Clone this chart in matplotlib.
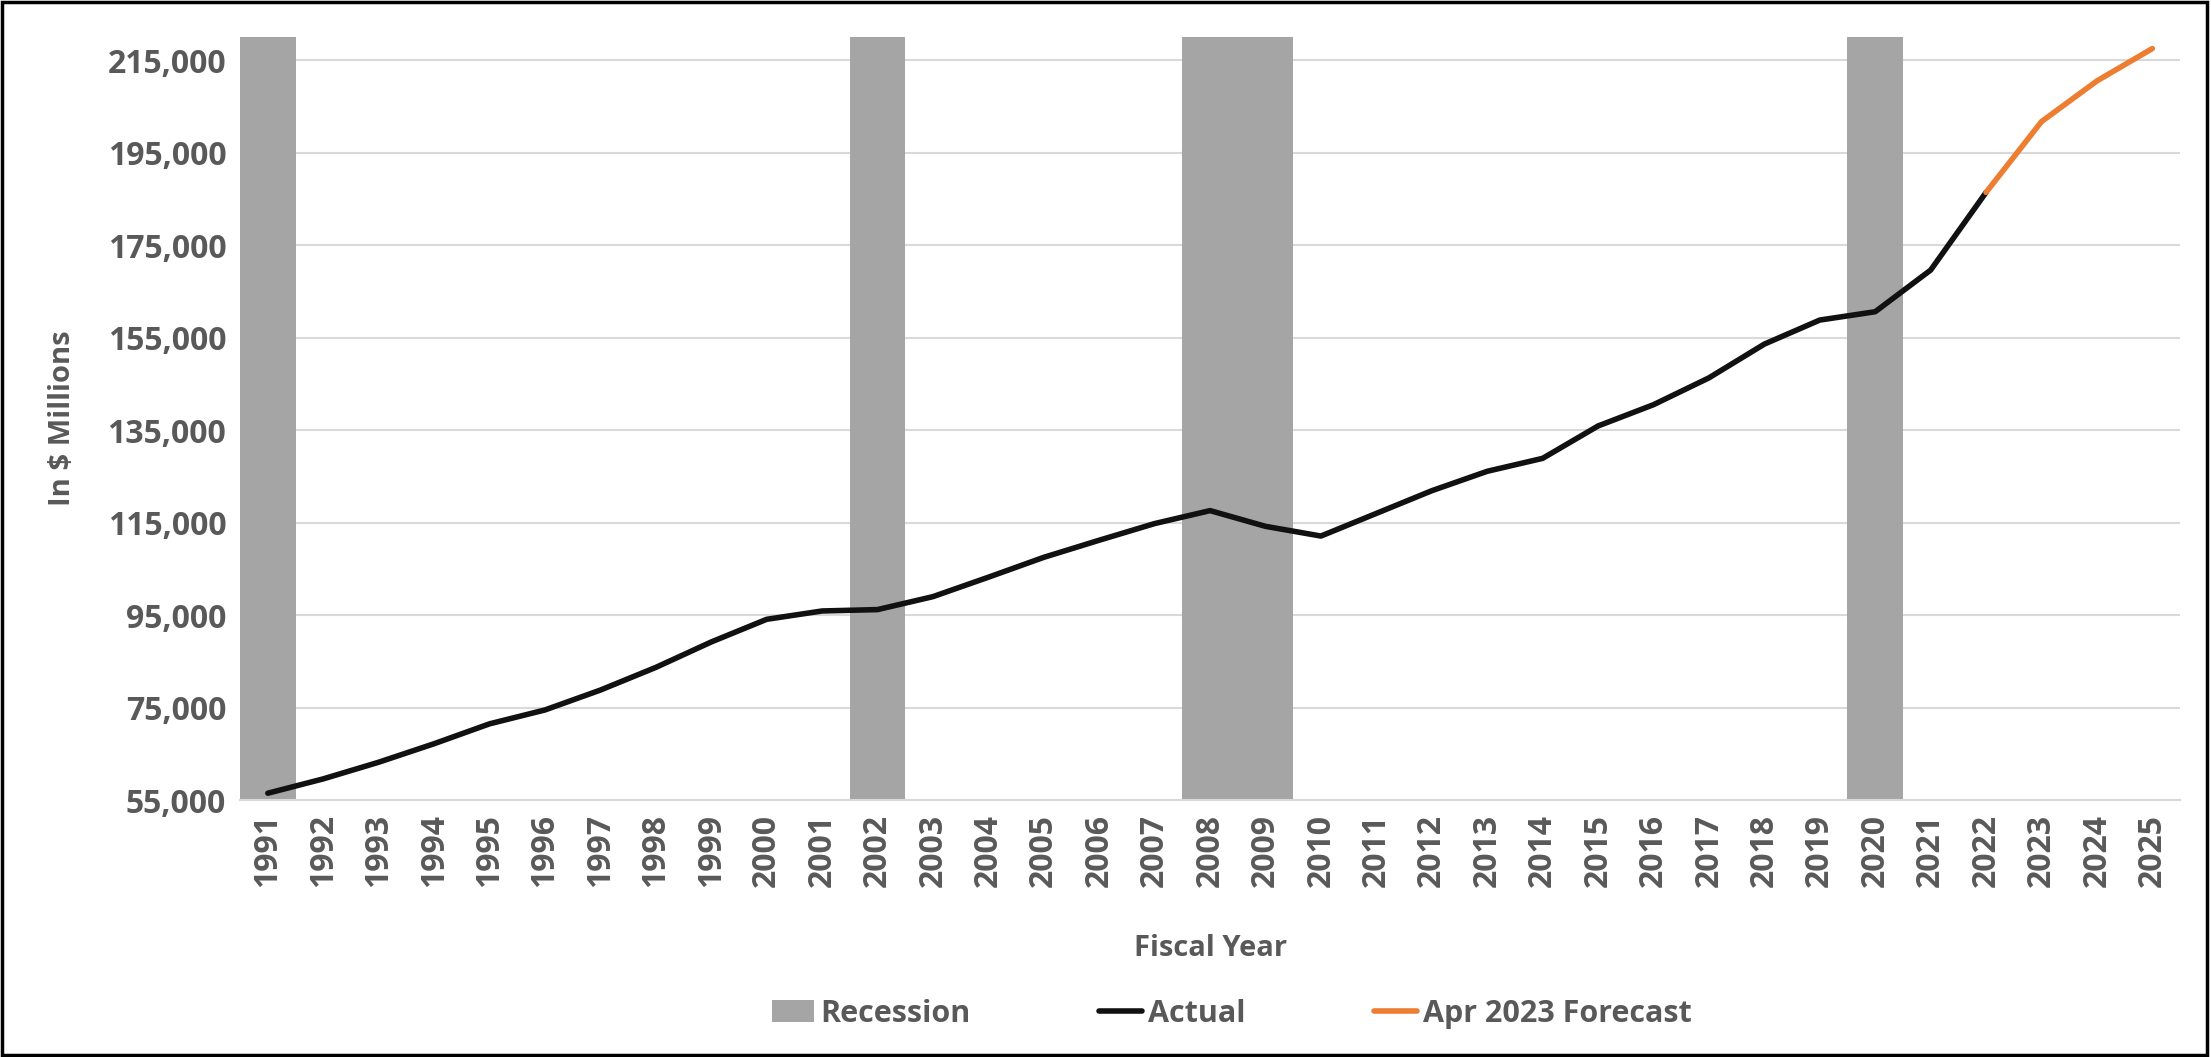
import matplotlib
matplotlib.use("Agg")
import matplotlib.pyplot as plt
from matplotlib.patches import Rectangle, Patch
from matplotlib.lines import Line2D

years = list(range(1991, 2026))
actual = [56500, 59600, 63200, 67200, 71500, 74500, 78800, 83700, 89200, 94100,
          95900, 96200, 99000, 103200, 107500, 111200, 114800, 117600, 114200, 112100,
          117000, 121900, 126100, 128900, 135900, 140500, 146300, 153600, 158800, 160600,
          169600, 186400]
forecast_years = [2022, 2023, 2024, 2025]
forecast = [186400, 201700, 210500, 217500]
recession_years = [1991, 2002, 2008, 2009, 2020]
recession_value = 220000
yticks = [55000, 75000, 95000, 115000, 135000, 155000, 175000, 195000, 215000]

plt.rcParams['font.family'] = ['Open Sans', 'DejaVu Sans']
plt.rcParams['font.weight'] = 'bold'
txt = '#595959'
fs_tick = 23

fig = plt.figure(figsize=(22.11, 10.57), dpi=100)
ax = fig.add_axes([0.1086, 0.243, 0.8774, 0.722])

idx = {y: i for i, y in enumerate(years)}
ax.bar([idx[y] for y in recession_years], [recession_value] * len(recession_years),
       width=1.0, color='#a5a5a5', zorder=1)
ax.plot([idx[y] for y in years[:len(actual)]], actual, color='#111111', lw=4.0,
        solid_capstyle='round', zorder=3)
ax.plot([idx[y] for y in forecast_years], forecast, color='#ed7d31', lw=4.0,
        solid_capstyle='round', zorder=3)

ax.set_xlim(-0.5, len(years) - 0.5)
ax.set_ylim(55000, 220000)
ax.set_yticks(yticks)
ax.set_yticklabels([f"{v:,}" for v in yticks])
ax.set_xticks(range(len(years)))
ax.set_xticklabels([str(y) for y in years], rotation=90)
ax.yaxis.grid(True, color='#d9d9d9', lw=1.5, zorder=0)
ax.set_axisbelow(True)
for s in ['top', 'right', 'left']:
    ax.spines[s].set_visible(False)
ax.spines['bottom'].set_color('#d9d9d9')
ax.spines['bottom'].set_linewidth(1.5)
ax.tick_params(axis='both', length=0, labelsize=fs_tick, labelcolor=txt, pad=10)
for lab in ax.get_xticklabels() + ax.get_yticklabels():
    lab.set_fontweight('bold')

ax.set_ylabel('In $ Millions', fontsize=21, fontweight='bold', color=txt, labelpad=22)
fig.text(0.5475, 0.103, 'Fiscal Year', ha='center', va='center', fontsize=21,
         fontweight='bold', color=txt)

handles = [Patch(facecolor='#a5a5a5', edgecolor='none'),
           Line2D([0], [0], color='#111111', lw=4.0, solid_capstyle='round'),
           Line2D([0], [0], color='#ed7d31', lw=4.0, solid_capstyle='round')]
leg = fig.legend(handles, ['Recession', 'Actual', 'Apr 2023 Forecast'],
                 loc='center', bbox_to_anchor=(0.557, 0.041), ncol=3, frameon=False,
                 prop={'size': 22, 'weight': 'bold'},
                 handlelength=1.4, handletextpad=0.2, columnspacing=4.2)
for t in leg.get_texts():
    t.set_color(txt)

fig.patches.append(Rectangle((0.001, 0.002), 0.997, 0.996, transform=fig.transFigure,
                             fill=False, edgecolor='black', lw=2.5))

fig.savefig('out.png', dpi=100, facecolor='white')
